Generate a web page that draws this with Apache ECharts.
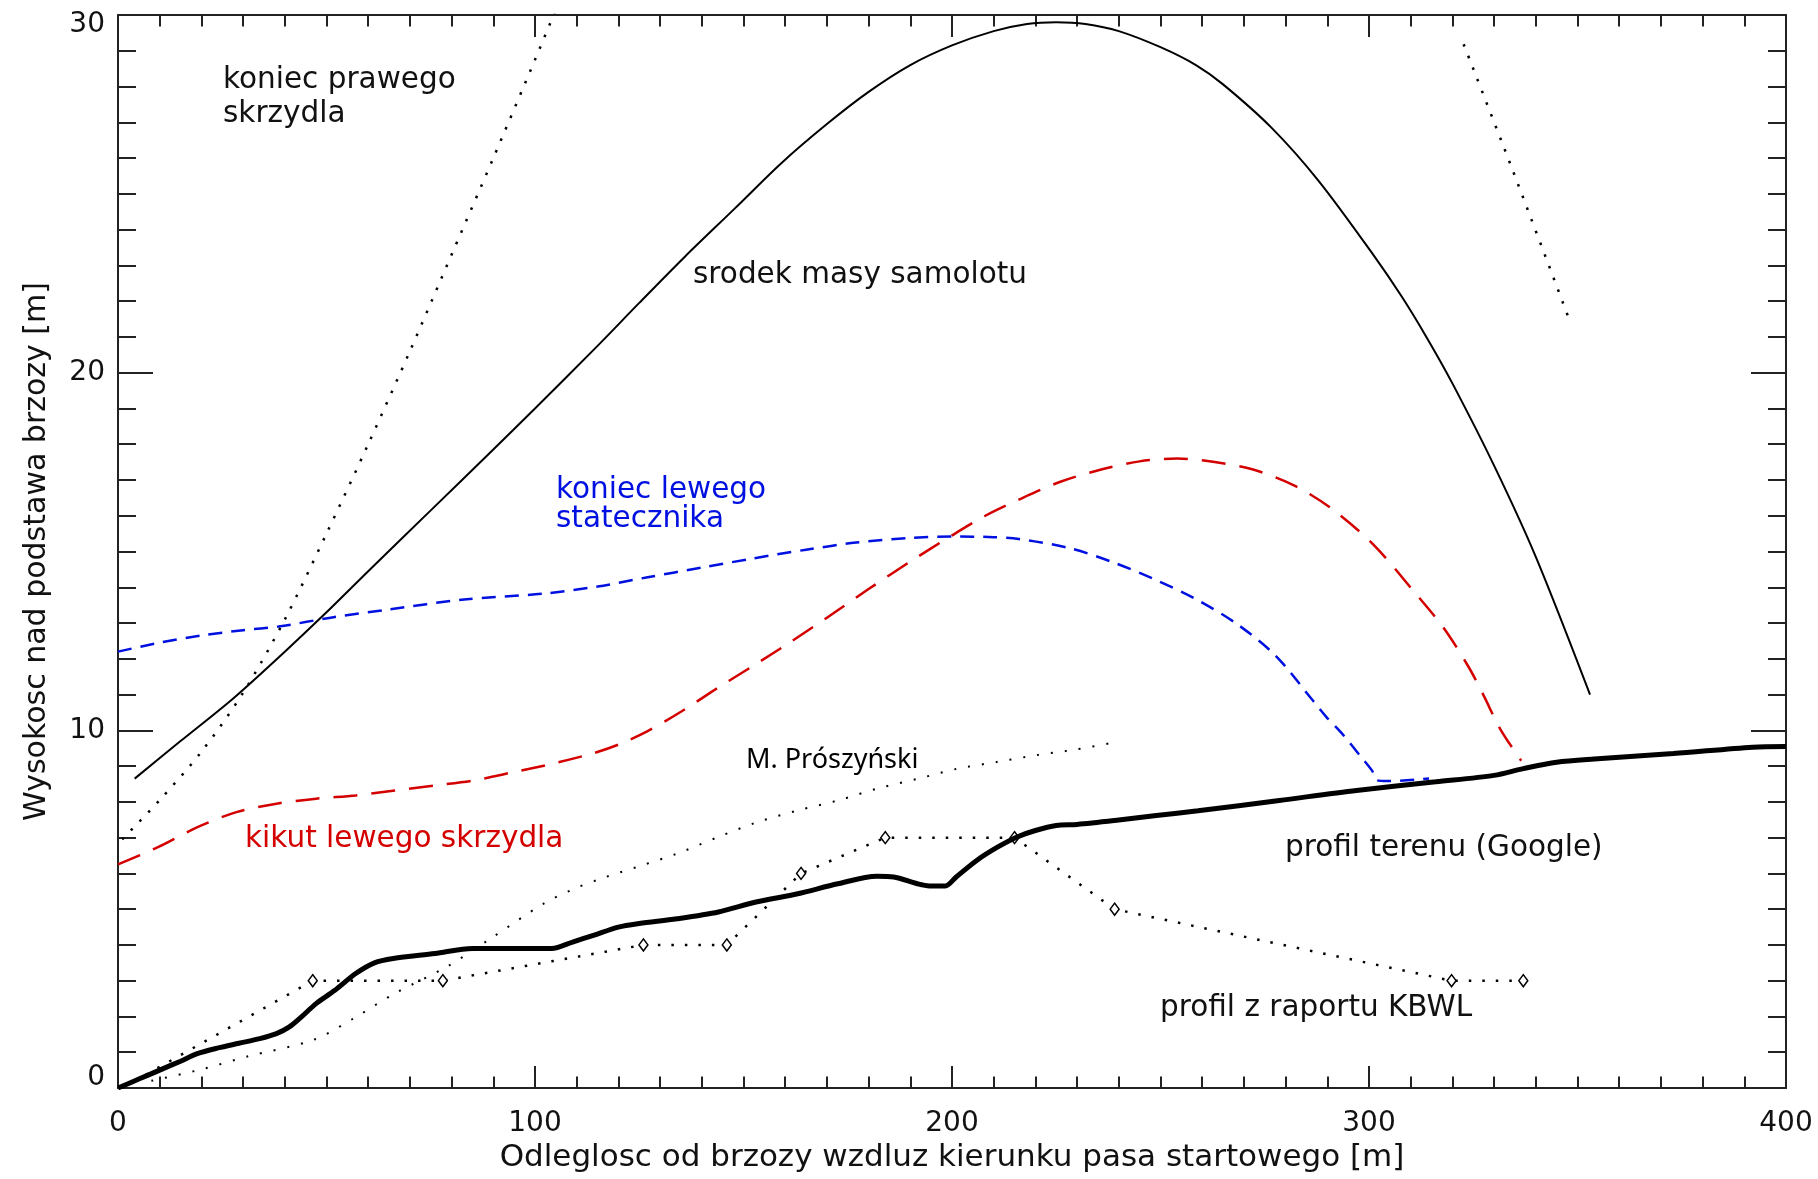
<!DOCTYPE html>
<html>
<head>
<meta charset="utf-8">
<script src="https://cdn.jsdelivr.net/npm/echarts@6/dist/echarts.min.js"></script>
<style>
  html, body { margin: 0; padding: 0; background: #fff; }
  #chart { width: 1818px; height: 1179px; }
</style>
</head>
<body>
<div id="chart"></div>
<script>
// Axis tick labels
const xTickLabels = ['0', '100', '200', '300', '400'];
const yTickLabels = ['0', '10', '20', '30'];

// Aircraft centre of mass trajectory [distance m, height m]
const srodekMasy = [
  [4, 8.65], [15, 9.7], [27.7, 10.9], [40, 12.2], [50, 13.3], [60, 14.45],
  [75, 16.15], [90, 17.85], [100, 19.0], [115, 20.75], [125, 21.95],
  [136, 23.25], [148, 24.6], [159, 25.85], [170, 26.95], [180, 27.85],
  [190, 28.6], [200, 29.15], [210, 29.55], [218, 29.75], [225, 29.8],
  [232, 29.75], [240, 29.55], [250, 29.1], [258.5, 28.6], [265, 28.06],
  [276.6, 26.85], [288, 25.35], [301, 23.3], [308, 22.1], [314, 20.95],
  [320, 19.7], [330, 17.4], [340, 14.85], [353, 11.0]
];

// Right wing tip (leaves the frame above 30 m and comes back)
const prawySkrzydloA = [
  [1, 6.95], [10, 8.05], [20, 9.4], [30, 11.05], [40, 13.1], [50, 15.5],
  [60, 18.0], [70, 20.6], [80, 23.3], [90, 26.0], [100, 28.75], [105, 30.15]
];
const prawySkrzydloB = [
  [322.7, 29.18], [334, 25.8], [348.3, 21.4]
];

// Left stabilizer tip
const lewyStatecznik = [
  [0, 12.2], [10, 12.45], [20, 12.65], [30, 12.8], [38.5, 12.9], [52, 13.17],
  [65, 13.38], [83, 13.66], [102, 13.82], [115, 14.02], [127, 14.28],
  [140, 14.55], [152, 14.8], [165, 15.05], [177, 15.25], [190, 15.38],
  [200, 15.42], [210, 15.4], [216, 15.35], [228, 15.1], [238.6, 14.7],
  [248, 14.25], [258, 13.7], [268, 13.0], [277.5, 12.1], [286.5, 10.84],
  [289.8, 10.37], [293.6, 9.9], [297.8, 9.3], [300.7, 8.88], [302, 8.6],
  [304.4, 8.58], [314.4, 8.65]
];

// Left wing stump
const kikutSkrzydla = [
  [0, 6.25], [9.7, 6.74], [19.2, 7.3], [28.6, 7.72], [38, 7.95], [47.5, 8.09],
  [57, 8.18], [66.4, 8.32], [76, 8.46], [85.3, 8.6], [94.8, 8.83],
  [104.3, 9.07], [113.7, 9.35], [120, 9.6], [127, 9.98], [135, 10.52],
  [144, 11.2], [152, 11.78], [161, 12.45], [170, 13.15], [180, 13.95],
  [190, 14.72], [200, 15.45], [208, 16.0], [216, 16.45], [226, 16.95],
  [236, 17.3], [245, 17.52], [254, 17.6], [263, 17.5], [272, 17.3],
  [282, 16.85], [291, 16.2], [301, 15.2], [311, 13.85], [318, 12.85],
  [324, 11.75], [327.6, 10.95], [331.4, 10.05], [336.5, 9.15]
];

// Terrain profile (Google)
const profilTerenu = [
  [0, 0], [5, 0.25], [10, 0.5], [15, 0.75], [19, 0.96], [24, 1.12], [29, 1.25],
  [34, 1.38], [38, 1.52], [41, 1.7], [44, 1.99], [47.5, 2.36], [52, 2.73],
  [57, 3.2], [61.5, 3.5], [66, 3.62], [76, 3.76], [85, 3.9], [95, 3.9],
  [104, 3.9], [109, 4.08], [114, 4.27], [120, 4.5], [125, 4.6], [134, 4.73],
  [144, 4.92], [153, 5.2], [163, 5.43], [172.6, 5.71], [182, 5.92], [186, 5.9],
  [191.7, 5.71], [194.6, 5.65], [198.4, 5.65], [201, 5.9], [206, 6.37],
  [211, 6.74], [215.6, 7.02], [220, 7.2], [225, 7.34], [230, 7.37],
  [239, 7.48], [249, 7.62], [259, 7.75], [278.5, 8.04], [297, 8.32],
  [316, 8.56], [330, 8.74], [337, 8.93], [345, 9.11], [354, 9.2],
  [373, 9.35], [392, 9.53], [400, 9.55]
];

// Terrain profile from the KBWL report (first point has no marker)
const profilKBWL = [
  [1, 0], [46.7, 3.0], [77.9, 3.0], [126, 4.0], [146, 4.0], [163.8, 6.0],
  [184, 7.0], [215, 7.0], [239, 5.0], [319.8, 3.0], [337, 3.0]
];

// M. Prószyński line
const liniaProszynski = [
  [8, 0.2], [20, 0.52], [31, 0.88], [47, 1.35], [57, 1.98], [66, 2.62],
  [79, 3.4], [89, 4.15], [102, 5.15], [110, 5.6], [117, 5.9], [125, 6.2],
  [134, 6.55], [144, 7.02], [153, 7.42], [163, 7.76], [173, 8.05],
  [182, 8.37], [192, 8.65], [201, 8.92], [211, 9.12], [220, 9.3],
  [230, 9.47], [237.5, 9.63]
];

const FONT = 'DejaVu Sans';
const INK = '#111';
const AXIS = '#222';
const RED = '#d40000';
const BLUE = '#0010e0';

function xAxisDef(pos, withLabels) {
  return {
    type: 'value', position: pos, min: 0, max: 400, interval: 100,
    axisLine: { show: true, onZero: false, lineStyle: { color: AXIS, width: 2 } },
    axisTick: { show: true, inside: true, length: 22, lineStyle: { color: AXIS, width: 2 } },
    minorTick: { show: true, splitNumber: 10, length: 11.5, lineStyle: { color: AXIS, width: 2 } },
    splitLine: { show: false },
    axisLabel: {
      show: withLabels, margin: 22, color: INK, fontFamily: FONT, fontSize: 28,
      formatter: v => xTickLabels[Math.round(v / 100)]
    }
  };
}

function yAxisDef(pos, withLabels) {
  return {
    type: 'value', position: pos, min: 0, max: 30, interval: 10,
    axisLine: { show: true, onZero: false, lineStyle: { color: AXIS, width: 2 } },
    axisTick: { show: true, inside: true, length: 35, lineStyle: { color: AXIS, width: 2 } },
    minorTick: { show: true, splitNumber: 10, length: 18, lineStyle: { color: AXIS, width: 2 } },
    splitLine: { show: false },
    axisLabel: {
      show: withLabels, margin: 13, color: INK, fontFamily: FONT, fontSize: 28,
      formatter: v => {
        const t = yTickLabels[Math.round(v / 10)];
        if (v === 0) return '{lo|' + t + '}';
        if (v === 30) return '{hi|' + t + '}';
        return t;
      },
      rich: {
        lo: { fontFamily: FONT, fontSize: 28, color: INK, padding: [0, 0, 20, 0] },
        hi: { fontFamily: FONT, fontSize: 28, color: INK, padding: [20, 0, 0, 0] }
      }
    }
  };
}

function note(text, x, y, color, font, size) {
  return {
    type: 'text', x: x, y: y, z: 100,
    style: {
      text: text, fill: color || INK,
      fontFamily: font || FONT, fontSize: size || 29.5,
      align: 'left', verticalAlign: 'middle'
    }
  };
}

const chart = echarts.init(document.getElementById('chart'), null, { renderer: 'canvas' });

const xMain = xAxisDef('bottom', true);
xMain.name = 'Odleglosc od brzozy wzdluz kierunku pasa startowego [m]';
xMain.nameLocation = 'middle';
xMain.nameGap = 54;
xMain.nameTextStyle = { color: INK, fontFamily: FONT, fontSize: 31 };

const yMain = yAxisDef('left', true);
yMain.name = 'Wysokosc nad podstawa brzozy [m]';
yMain.nameLocation = 'middle';
yMain.nameGap = 66;
yMain.nameTextStyle = { color: INK, fontFamily: FONT, fontSize: 30 };

// plain curve smoothing through the sampled points
function curve(def) {
  return Object.assign({ type: 'line', symbol: 'none', smooth: 0.3 }, def);
}

chart.setOption({
  animation: false,
  backgroundColor: '#fff',
  grid: { left: 118, right: 32, top: 15, bottom: 91, containLabel: false },
  xAxis: [xMain, xAxisDef('top', false)],
  yAxis: [yMain, yAxisDef('right', false)],
  series: [
    {
      name: 'profil z raportu KBWL', type: 'line', z: 3,
      data: profilKBWL.map((p, i) => i === 0 ? { value: p, symbol: 'none' } : p),
      symbol: 'diamond', symbolSize: [9, 12], showAllSymbol: true,
      itemStyle: { color: '#fff', borderColor: '#000', borderWidth: 1.5 },
      lineStyle: { color: '#000', width: 2.5, type: [2.5, 11] }
    },
    curve({
      name: 'M. Prószyński', z: 2, data: liniaProszynski,
      lineStyle: { color: '#000', width: 2, type: [2, 12] }
    }),
    curve({
      name: 'profil terenu (Google)', z: 4, data: profilTerenu,
      lineStyle: { color: '#000', width: 5 }
    }),
    curve({
      name: 'kikut lewego skrzydla', z: 2, data: kikutSkrzydla,
      lineStyle: { color: RED, width: 2.5, type: [24, 14] }
    }),
    curve({
      name: 'koniec lewego statecznika', z: 2, data: lewyStatecznik,
      lineStyle: { color: BLUE, width: 2.5, type: [14, 9] }
    }),
    curve({
      name: 'srodek masy samolotu', z: 2, data: srodekMasy,
      lineStyle: { color: '#000', width: 2 }
    }),
    curve({
      name: 'koniec prawego skrzydla', z: 2, data: prawySkrzydloA,
      lineStyle: { color: '#000', width: 2.5, type: [2.5, 10] }
    }),
    curve({
      name: 'koniec prawego skrzydla (2)', z: 2, data: prawySkrzydloB,
      lineStyle: { color: '#000', width: 2.5, type: [2.5, 10] }
    })
  ],
  graphic: [
    note('koniec prawego', 223, 80),
    note('skrzydla', 223, 114),
    note('srodek masy samolotu', 693, 275),
    note('koniec lewego', 556, 490, BLUE),
    note('statecznika', 556, 519, BLUE),
    note('kikut lewego skrzydla', 245, 839, RED),
    note('profil terenu (Google)', 1285, 848),
    note('profil z raportu KBWL', 1160, 1008),
    note('M. Prószyński', 746, 760, '#000', 'Noto Sans', 27)
  ]
});
</script>
</body>
</html>
